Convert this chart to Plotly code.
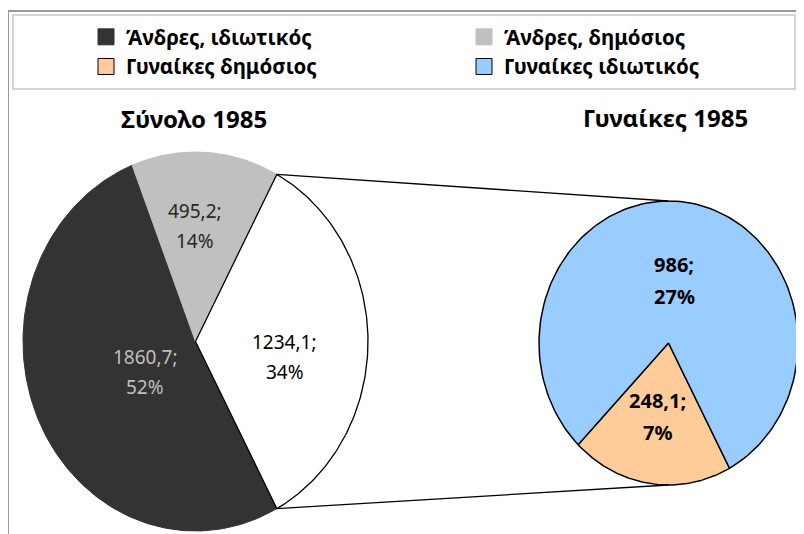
import numpy as np
import plotly.graph_objects as go

# ---------------- data ----------------
main_names = ["Άνδρες, ιδιωτικός", "Άνδρες, δημόσιος", "Γυναίκες"]
main_values = [1860.7, 495.2, 1234.1]
sub_names = ["Γυναίκες δημόσιος", "Γυναίκες ιδιωτικός"]
sub_values = [248.1, 986.0]
titles = ["Σύνολο 1985", "Γυναίκες 1985"]
legend_names = ["Άνδρες, ιδιωτικός", "Γυναίκες δημόσιος", "Άνδρες, δημόσιος", "Γυναίκες ιδιωτικός"]

# ---------------- style ----------------
PAGE_OFF = 8                      # default body margin of the html page
W, H = 804 - PAGE_OFF, 534 - PAGE_OFF
FONT = "Noto Sans"
main_c, main_r = (195.5, 341.5), (172.5, 189.5)
sub_c, sub_r = (668.5, 343.0), (129.5, 142.0)
main_colors = ["#333333", "#C0C0C0", "#FFFFFF"]
main_lines = ["#333333", "#C0C0C0", "#000000"]
main_lw = [1, 1, 1.3]
sub_colors = ["#FFCC99", "#99CCFF"]
legend_colors = ["#333333", "#FFCC99", "#C0C0C0", "#99CCFF"]
legend_outline = ["#333333", "#000000", "#C0C0C0", "#000000"]
legend_ids = ["legend", "legend", "legend2", "legend2"]
main_label_colors = ["#BFBFBF", "#262626", "#000000"]
main_label_pos = [(0.334, -4.0), (0.61, -3.6), (0.525, 8.9)]   # (radius fraction, angle nudge)
sub_label_pos = [(0.522, 1.7), (0.439, -2.5)]

total = sum(main_values)
other_span = 360.0 * main_values[2] / total
start_angle = 90.0 + other_span / 2.0


def pt(c, r, ang, frac=1.0):
    a = np.radians(ang)
    return c[0] + frac * r[0] * np.sin(a), c[1] - frac * r[1] * np.cos(a)


def fmt(v):
    s = ("%.1f" % v).rstrip("0").rstrip(".")
    return s.replace(".", ",") + ";"


def slices(values, tot, start):
    out = []
    a = start
    for v in values:
        span = 360.0 * v / tot
        out.append((a, a + span))
        a += span
    return out


fig = go.Figure()
annotations = []

# main pie
for i, (a0, a1) in enumerate(slices(main_values, total, start_angle)):
    angs = np.linspace(a0, a1, 150)
    xs, ys = pt(main_c, main_r, angs)
    fig.add_trace(go.Scatter(
        x=np.concatenate([[main_c[0]], xs, [main_c[0]]]),
        y=np.concatenate([[main_c[1]], ys, [main_c[1]]]),
        mode="lines", fill="toself", fillcolor=main_colors[i],
        line=dict(color=main_lines[i], width=main_lw[i]),
        name=main_names[i], showlegend=False, hoverinfo="skip"))
    frac, nudge = main_label_pos[i]
    lx, ly = pt(main_c, main_r, (a0 + a1) / 2 + nudge, frac)
    pct = "%d%%" % round(100 * main_values[i] / total)
    for txt, sh in [(fmt(main_values[i]), 15), (pct, -15)]:
        annotations.append(dict(x=lx, y=ly, xref="x", yref="y", text=txt, showarrow=False,
                                yshift=sh, font=dict(family=FONT, size=19, color=main_label_colors[i])))

# secondary pie
for i, (a0, a1) in enumerate(slices(sub_values, sum(sub_values), start_angle)):
    angs = np.linspace(a0, a1, 150)
    xs, ys = pt(sub_c, sub_r, angs)
    fig.add_trace(go.Scatter(
        x=np.concatenate([[sub_c[0]], xs, [sub_c[0]]]),
        y=np.concatenate([[sub_c[1]], ys, [sub_c[1]]]),
        mode="lines", fill="toself", fillcolor=sub_colors[i],
        line=dict(color="#000000", width=1.5),
        name=sub_names[i], showlegend=False, hoverinfo="skip"))
    frac, nudge = sub_label_pos[i]
    lx, ly = pt(sub_c, sub_r, (a0 + a1) / 2 + nudge, frac)
    pct = "%d%%" % round(100 * sub_values[i] / total)
    for txt, sh in [(fmt(sub_values[i]), 16), (pct, -16)]:
        annotations.append(dict(x=lx, y=ly, xref="x", yref="y", text=txt, showarrow=False,
                                yshift=sh, font=dict(family=FONT, size=20, color="#000000", weight="bold")))

# connector lines
for ang, sub_ang in [(90 - other_span / 2, 0.0), (90 + other_span / 2, 180.0)]:
    x0, y0 = pt(main_c, main_r, ang)
    x1, y1 = pt(sub_c, sub_r, sub_ang)
    fig.add_trace(go.Scatter(x=[x0, x1], y=[y0, y1], mode="lines",
                             line=dict(color="#000000", width=1.3),
                             showlegend=False, hoverinfo="skip"))

# legend entries
for name, col, oc, lg in zip(legend_names, legend_colors, legend_outline, legend_ids):
    fig.add_trace(go.Scatter(x=[None], y=[None], mode="markers", name=name, legend=lg,
                             marker=dict(symbol="square", size=16, color=col,
                                         line=dict(color=oc, width=1))))

# titles
for t, c in zip(titles, [(194, 118), (665.5, 117)]):
    annotations.append(dict(x=c[0], y=c[1], xref="x", yref="y", text=t, showarrow=False,
                            font=dict(family=FONT, size=24, color="#000000", weight="bold")))

leg_common = dict(orientation="v", xanchor="left", yanchor="top", y=1 - 9 / H,
                  bgcolor="rgba(0,0,0,0)", borderwidth=0, itemsizing="trace",
                  tracegroupgap=0,
                  font=dict(family=FONT, size=20.5, color="#000000", weight="bold"))

fig.update_layout(
    width=W, height=H,
    margin=dict(l=0, r=0, t=0, b=0),
    paper_bgcolor="white", plot_bgcolor="white",
    xaxis=dict(range=[PAGE_OFF, W + PAGE_OFF], visible=False, fixedrange=True),
    yaxis=dict(range=[H + PAGE_OFF, PAGE_OFF], visible=False, fixedrange=True),
    annotations=annotations,
    showlegend=True,
    legend=dict(x=78 / W, **leg_common),
    legend2=dict(x=456 / W, **leg_common),
    shapes=[
        dict(type="rect", xref="x", yref="y", x0=8, y0=11, x1=W + 40, y1=H + 40,
             line=dict(color="#999999", width=2), layer="below"),
        dict(type="rect", xref="x", yref="y", x0=13, y0=15, x1=795, y1=89,
             line=dict(color="#C8C8C8", width=1.5), layer="below"),
    ],
    hovermode=False,
)

fig.write_html("out.html")
